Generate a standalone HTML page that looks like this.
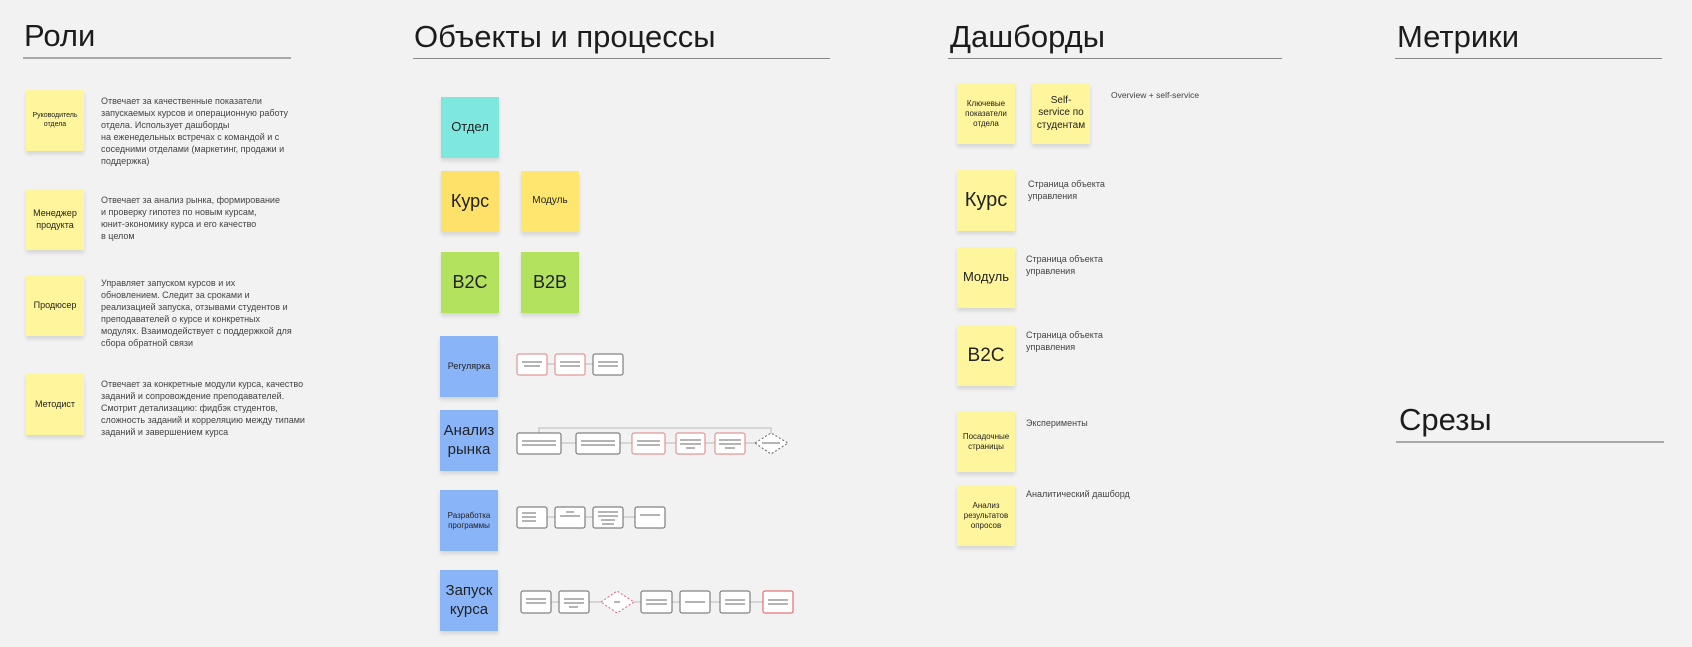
<!DOCTYPE html>
<html><head><meta charset="utf-8"><style>
body{margin:0;width:1692px;height:647px;background:#f2f2f2;position:relative;overflow:hidden;font-family:"Liberation Sans","Noto Sans CJK SC",sans-serif;color:#222}
.t{position:absolute;font-size:31px;color:#1c1c1c;line-height:1}
.l{position:absolute;height:2px;background:#a8a8a8}
.n{position:absolute;width:58px;height:61px;display:flex;align-items:center;justify-content:center;text-align:center;box-shadow:0 3px 4px rgba(0,0,0,.12);line-height:1.25}
.y{background:#fff59c}
.d{position:absolute;font-size:9px;line-height:12px;color:#444}
svg{position:absolute;left:0;top:0}
</style></head><body>
<div class="t" style="left:24px;top:20px">Роли</div><div class="l" style="left:23px;top:57px;width:268px"></div>
<div class="t" style="left:414px;top:21px">Объекты и процессы</div><div class="l" style="left:413px;top:58px;width:417px;height:1px;background:#888"></div>
<div class="t" style="left:950px;top:21px">Дашборды</div><div class="l" style="left:948px;top:58px;width:334px;height:1px;background:#888"></div>
<div class="t" style="left:1397px;top:21px">Метрики</div><div class="l" style="left:1395px;top:58px;width:267px;height:1px;background:#888"></div>
<div class="t" style="left:1399px;top:404px">Срезы</div><div class="l" style="left:1396px;top:441px;width:268px"></div>

<div class="n y" style="left:26px;top:90px;font-size:7px">Руководитель<br>отдела</div>
<div class="d" style="left:101px;top:95px">Отвечает за качественные показатели<br>запускаемых курсов и операционную работу<br>отдела. Использует дашборды<br>на еженедельных встречах с командой и с<br>соседними отделами (маркетинг, продажи и<br>поддержка)</div>
<div class="n y" style="left:26px;top:189px;font-size:9px">Менеджер<br>продукта</div>
<div class="d" style="left:101px;top:194px">Отвечает за анализ рынка, формирование<br>и проверку гипотез по новым курсам,<br>юнит-экономику курса и его качество<br>в целом</div>
<div class="n y" style="left:26px;top:275px;font-size:9px">Продюсер</div>
<div class="d" style="left:101px;top:277px">Управляет запуском курсов и их<br>обновлением. Следит за сроками и<br>реализацией запуска, отзывами студентов и<br>преподавателей о курсе и конкретных<br>модулях. Взаимодействует с поддержкой для<br>сбора обратной связи</div>
<div class="n y" style="left:26px;top:374px;font-size:9px">Методист</div>
<div class="d" style="left:101px;top:378px">Отвечает за конкретные модули курса, качество<br>заданий и сопровождение преподавателей.<br>Смотрит детализацию: фидбэк студентов,<br>сложность заданий и корреляцию между типами<br>заданий и завершением курса</div>

<div class="n" style="left:441px;top:97px;background:#7ee8df;font-size:13px">Отдел</div>
<div class="n" style="left:441px;top:171px;background:#fee169;font-size:18px">Курс</div>
<div class="n" style="left:521px;top:171px;background:#fee66f;font-size:10px">Модуль</div>
<div class="n" style="left:441px;top:252px;background:#b3e35e;font-size:18px">B2C</div>
<div class="n" style="left:521px;top:252px;background:#b3e35e;font-size:18px">B2B</div>
<div class="n" style="left:440px;top:336px;background:#8ab4f8;font-size:9px">Регулярка</div>
<div class="n" style="left:440px;top:410px;background:#8ab4f8;font-size:15px">Анализ<br>рынка</div>
<div class="n" style="left:440px;top:490px;background:#8ab4f8;font-size:8px">Разработка<br>программы</div>
<div class="n" style="left:440px;top:570px;background:#8ab4f8;font-size:15px">Запуск<br>курса</div>

<svg width="1692" height="647" fill="none" stroke-width="1">
<g stroke="#bbb">
<line x1="547" y1="364" x2="623" y2="364"/>
<line x1="561" y1="443" x2="771" y2="443"/>
<polyline points="539,433 539,428 771,428 771,433"/>
<line x1="547" y1="517" x2="665" y2="517"/>
<line x1="551" y1="602" x2="793" y2="602"/>
</g>
<g fill="#fff" stroke="#666">
<rect x="517" y="354" width="30" height="21" rx="2" stroke="#e08080"/><rect x="555" y="354" width="30" height="21" rx="2" stroke="#e08080"/><rect x="593" y="354" width="30" height="21" rx="2"/>
<rect x="517" y="433" width="44" height="21" rx="2"/><rect x="576" y="433" width="44" height="21" rx="2"/><rect x="632" y="433" width="33" height="21" rx="2" stroke="#e08080"/><rect x="676" y="433" width="29" height="21" rx="2" stroke="#e08080"/><rect x="715" y="433" width="30" height="21" rx="2" stroke="#e08080"/>
<polygon points="755,443 771,433 788,443 771,454" stroke-dasharray="2,2"/>
<rect x="517" y="507" width="30" height="21" rx="2"/><rect x="555" y="507" width="30" height="21" rx="2"/><rect x="593" y="507" width="30" height="21" rx="2"/><rect x="635" y="507" width="30" height="21" rx="2"/>
<rect x="521" y="591" width="30" height="22" rx="2"/><rect x="559" y="591" width="30" height="22" rx="2"/>
<polygon points="601,602 617,591 634,602 617,613" stroke="#e06080" stroke-dasharray="2,2"/>
<rect x="641" y="591" width="31" height="22" rx="2"/><rect x="680" y="591" width="30" height="22" rx="2"/><rect x="720" y="591" width="30" height="22" rx="2"/><rect x="763" y="591" width="30" height="22" rx="2" stroke="#e05050"/>
</g>
<g stroke="#888" stroke-width="1.2">
<path d="M522 362h20M524 366h16M560 362h20M560 366h20M598 362h20M598 366h20"/>
<path d="M522 441h34M522 445h34M581 441h34M581 445h34M637 441h23M637 445h23M680 440h21M680 444h21M686 448h9M719 440h22M719 444h22M725 448h10M762 443h18"/>
<path d="M522 513h14M522 517h14M522 521h14M560 516h20M566 512h8M598 512h20M598 516h20M601 520h14M602 524h12M640 515h20"/>
<path d="M526 599h20M526 603h20M564 599h20M564 603h20M569 607h9M614 602h6M646 600h21M646 604h21M685 602h20M725 600h20M725 604h20M768 600h20M768 604h20"/>
</g>
</svg>

<div class="n y" style="left:957px;top:83px;font-size:8px">Ключевые<br>показатели<br>отдела</div>
<div class="n y" style="left:1032px;top:83px;font-size:10px">Self-<br>service по<br>студентам</div>
<div class="d" style="left:1111px;top:89px;font-size:8.5px">Overview + self-service</div>
<div class="n y" style="left:957px;top:170px;font-size:20px">Курс</div>
<div class="d" style="left:1028px;top:178px">Страница объекта<br>управления</div>
<div class="n y" style="left:957px;top:247px;font-size:13px">Модуль</div>
<div class="d" style="left:1026px;top:253px">Страница объекта<br>управления</div>
<div class="n y" style="left:957px;top:325px;font-size:19px">B2C</div>
<div class="d" style="left:1026px;top:329px">Страница объекта<br>управления</div>
<div class="n y" style="left:957px;top:411px;font-size:8px">Посадочные<br>страницы</div>
<div class="d" style="left:1026px;top:417px">Эксперименты</div>
<div class="n y" style="left:957px;top:485px;font-size:8px">Анализ<br>результатов<br>опросов</div>
<div class="d" style="left:1026px;top:488px">Аналитический дашборд</div>
</body></html>
